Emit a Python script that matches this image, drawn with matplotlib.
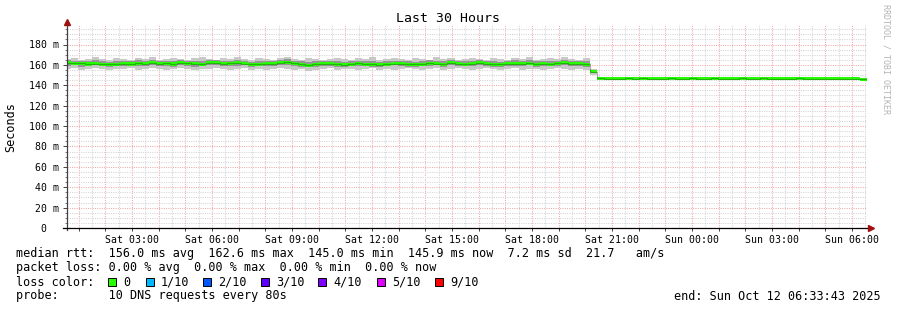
import matplotlib
matplotlib.use("Agg")
import matplotlib.pyplot as plt
import matplotlib.dates as mdates
from matplotlib.ticker import MultipleLocator, FuncFormatter
from matplotlib.patches import Rectangle
import pandas as pd
import numpy as np

# ---------------- data ----------------
title = "Last 30 Hours"
y_label = "Seconds"
end_time = pd.Timestamp("2025-10-12 06:33:43")
span_hours = 30
step_minutes = 16
first_bin_offset_min = -8

median = [162.0,161.5,161.8,160.9,161.2,160.8,160.5,160.6,161.0,160.9,
          161.7,161.3,162.1,161.0,161.4,160.9,162.2,161.6,161.0,160.7,
          162.3,162.0,161.2,161.5,162.0,161.3,160.4,160.6,161.2,161.0,
          162.1,162.6,161.4,160.5,159.8,160.4,161.2,161.0,160.5,160.3,
          160.8,161.4,160.7,160.5,160.2,160.6,161.3,161.2,160.6,160.4,
          160.8,161.5,161.2,160.5,162.0,161.3,160.7,161.1,161.9,161.2,
          160.6,160.4,161.2,161.3,161.0,161.5,160.6,161.3,160.7,161.4,
          162.0,161.3,161.0,160.8,
          153.2,
          146.8,146.5,146.6,146.3,146.7,146.4,146.9,146.5,146.6,146.2,
          146.8,146.4,146.5,146.7,146.3,146.6,146.9,146.5,146.4,146.6,
          146.7,146.3,146.5,146.8,146.4,146.6,146.2,146.5,146.7,146.4,
          146.6,146.3,146.5,146.4,146.6,146.5,146.3,145.9]

ping_min = [156,157,155,156,157,156,155,156,156,157,
            155,156,157,156,155,156,157,156,155,156,
            156,157,156,155,156,157,155,156,155,156,
            157,156,155,156,154,155,156,157,155,156,
            156,155,156,157,155,156,155,156,157,156,
            155,156,157,155,156,157,156,155,156,157,
            156,155,156,157,155,156,156,155,156,157,
            156,155,156,155,
            150,
            145.3,145.1,145.4,145.0,145.3,145.2,145.5,145.1,145.3,145.0,
            145.4,145.2,145.1,145.3,145.0,145.2,145.5,145.2,145.1,145.3,
            145.4,145.0,145.2,145.5,145.1,145.3,145.0,145.2,145.4,145.1,
            145.3,145.0,145.2,145.1,145.3,145.2,145.0,145.0]

ping_max = [166,167,165,166,168,166,165,167,166,165,
            167,166,168,165,166,167,166,165,167,168,
            166,165,167,166,168,166,165,167,166,165,
            167,168,166,165,167,166,165,166,167,166,
            165,167,166,168,165,166,167,166,165,167,
            166,165,168,166,167,165,166,167,166,165,
            167,166,165,167,166,168,165,166,167,166,
            168,166,165,167,
            156,
            147.8,148.0,147.6,148.1,147.7,147.9,148.2,147.8,147.6,148.0,
            147.9,147.7,148.1,147.8,147.6,148.0,148.2,147.7,147.9,147.8,
            148.0,147.6,147.9,148.1,147.7,147.8,147.6,148.0,147.9,147.7,
            148.0,147.6,147.8,147.7,147.9,147.8,147.6,147.5]

inner_lo = [159,159.5,158,159,160,158.5,158,159,159,159.5,
            158.5,159,160,158.5,159,158,159.5,159,158,158.5,
            159.5,160,159,158.5,159,159.5,158,158.5,159,158.5,
            160,159.5,159,158,157.5,158,159,159,158,158,
            158.5,159,158.5,158,158,158.5,159.5,159,158,158,
            158.5,159,159.5,158,160,159,158.5,159,159.5,159,
            158,158,159,159,158.5,159.5,158,159,158.5,159,
            159.5,159,158.5,158,
            152,
            146.2,146.0,146.1,145.8,146.2,145.9,146.4,146.0,146.1,145.7,
            146.3,145.9,146.0,146.2,145.8,146.1,146.4,146.0,145.9,146.1,
            146.2,145.8,146.0,146.3,145.9,146.1,145.7,146.0,146.2,145.9,
            146.1,145.8,146.0,145.9,146.1,146.0,145.8,145.5]

inner_hi = [164.5,164,164,163.5,164.5,163.5,163,164,163.5,163.5,
            164.5,164,165,163.5,164,164,165,164,164,163.5,
            165,164.5,164,164,165,164,163,163.5,164,163.5,
            165,165.5,164,163.5,163,163.5,164,164,163.5,163,
            163.5,164,163.5,164,163,163.5,164,164,163.5,163,
            163.5,164.5,164,163.5,165,164,163.5,164,164.5,164,
            163.5,163,164,164.5,163.5,164.5,163.5,164,163.5,164,
            165,164,164,163.5,
            154.5,
            147.4,147.1,147.2,147.0,147.3,147.0,147.5,147.1,147.2,146.9,
            147.4,147.0,147.1,147.3,146.9,147.2,147.5,147.1,147.0,147.2,
            147.3,146.9,147.1,147.4,147.0,147.2,146.8,147.1,147.3,147.0,
            147.2,146.9,147.1,147.0,147.2,147.1,146.9,146.5]

stats_line = "median rtt:  156.0 ms avg  162.6 ms max  145.0 ms min  145.9 ms now  7.2 ms sd  21.7   am/s"
loss_line = "packet loss: 0.00 % avg  0.00 % max  0.00 % min  0.00 % now"
probe_line = "probe:       10 DNS requests every 80s"
end_line = "end: Sun Oct 12 06:33:43 2025"
loss_labels = ["0", "1/10", "2/10", "3/10", "4/10", "5/10", "9/10"]
loss_colors = ["#26ff00", "#00b8ff", "#0059ff", "#5e00ff", "#7e00ff", "#dd00ff", "#ff0000"]
loss_square_px = [108, 146, 203, 261, 318, 377, 435]

# ---------------- figure ----------------
W, H = 897, 310
DPI = 100
MONO = "DejaVu Sans Mono"
fig = plt.figure(figsize=(W / DPI, H / DPI), dpi=DPI)
fig.patch.set_facecolor("white")

px_left, px_right, px_zero, px_top = 67, 867, 228, 25
ax = fig.add_axes([px_left / W, 1 - px_zero / H, (px_right - px_left) / W, (px_zero - px_top) / H])
ax.set_facecolor("white")

start_time = end_time - pd.Timedelta(hours=span_hours)
n = len(median)
edges = pd.date_range(start_time + pd.Timedelta(minutes=first_bin_offset_min),
                      periods=n + 1, freq=f"{step_minutes}min")
xe = mdates.date2num(edges.to_pydatetime())

def stepvals(v):
    v = list(v)
    return np.array(v + [v[-1]])

ax.fill_between(xe, stepvals(ping_min), stepvals(ping_max), step="post",
                color="#c8c8c8", linewidth=0, zorder=2)
ax.fill_between(xe, stepvals(inner_lo), stepvals(inner_hi), step="post",
                color="#959595", linewidth=0, zorder=3)
med = stepvals(median)
ax.fill_between(xe, med - 1.5, med + 1.5, step="post", color=loss_colors[0],
                linewidth=0, zorder=4)
ax.step(xe, med, where="post", color="#202020", linewidth=0.8, zorder=5, alpha=0.35)

ax.set_xlim(mdates.date2num(start_time.to_pydatetime()), mdates.date2num(end_time.to_pydatetime()))
ymax = (px_zero - px_top) / ((px_zero - 44.5) / 180.0)
ax.set_ylim(0, ymax)

# grid
ax.xaxis.set_major_locator(mdates.HourLocator(interval=1))
ax.xaxis.set_minor_locator(mdates.MinuteLocator(byminute=[30]))
def xfmt(v, pos):
    d = mdates.num2date(v)
    if d.hour % 3 == 0:
        return d.strftime("%a %H:%M")
    return ""
ax.xaxis.set_major_formatter(FuncFormatter(xfmt))
ax.yaxis.set_major_locator(MultipleLocator(20))
ax.yaxis.set_minor_locator(MultipleLocator(5))
ax.yaxis.set_major_formatter(FuncFormatter(lambda v, p: "0  " if abs(v) < 1e-9 else f"{v:.0f} m"))

dot = (0, (1, 1.2))
ax.grid(which="minor", color="#d4d4d4", linestyle=dot, linewidth=0.75, zorder=1)
ax.grid(which="major", color="#f2a8a8", linestyle=dot, linewidth=0.75, zorder=1)
ax.set_axisbelow(True)

ax.tick_params(axis="x", which="major", length=2, width=0.7, color="#404040", pad=3,
               labelsize=7.1, labelfontfamily=MONO)
ax.tick_params(axis="x", which="minor", length=0)
ax.tick_params(axis="y", which="major", length=3, width=0.7, color="#404040", pad=2.6,
               labelsize=7.1, labelfontfamily=MONO)
ax.tick_params(axis="y", which="minor", length=1.5, width=0.6, color="#606060")

for s in ["top", "right", "bottom", "left"]:
    ax.spines[s].set_visible(False)

def fx(px):
    return px / W
def fy(py):
    return 1 - py / H
fig.add_artist(plt.Line2D([fx(px_left), fx(px_left)], [fy(px_zero + 2), fy(22)],
                          color="#404040", linewidth=0.9, zorder=10))
fig.add_artist(plt.Line2D([fx(63), fx(870)], [fy(px_zero), fy(px_zero)],
                          color="#000000", linewidth=0.9, zorder=10))
fig.add_artist(plt.Line2D([fx(px_left)], [fy(22)], marker="^", markersize=4.5,
                          color="#a01010", linestyle="none", zorder=11))
fig.add_artist(plt.Line2D([fx(871)], [fy(px_zero)], marker=">", markersize=4.5,
                          color="#a01010", linestyle="none", zorder=11))

# texts
fig.text(fx(448), fy(19), title, ha="center", va="center", fontsize=9.5, family=MONO)
fig.text(fx(11), fy(127), y_label, ha="center", va="center", rotation=90, fontsize=8.5, family=MONO)
fig.text(fx(886), fy(4), "RRDTOOL / TOBI OETIKER", ha="center", va="top", rotation=270,
         fontsize=6, family=MONO, color="#b4b4b4")

fig.text(fx(16), fy(254), stats_line, ha="left", va="center", fontsize=8.5, family=MONO)
fig.text(fx(16), fy(268), loss_line, ha="left", va="center", fontsize=8.5, family=MONO)
fig.text(fx(16), fy(282), "loss color:", ha="left", va="center", fontsize=8.5, family=MONO)
for lab, col, sx in zip(loss_labels, loss_colors, loss_square_px):
    fig.add_artist(Rectangle((fx(sx), fy(286)), 8 / W, 8 / H, transform=fig.transFigure,
                             facecolor=col, edgecolor="black", linewidth=0.7, zorder=10))
    fig.text(fx(sx + 15), fy(282), lab, ha="left", va="center", fontsize=8.5, family=MONO)
fig.text(fx(16), fy(296), probe_line, ha="left", va="center", fontsize=8.5, family=MONO)
fig.text(fx(881), fy(296), end_line, ha="right", va="center", fontsize=8.5, family=MONO)

fig.savefig("out.png", dpi=DPI, facecolor="white")
